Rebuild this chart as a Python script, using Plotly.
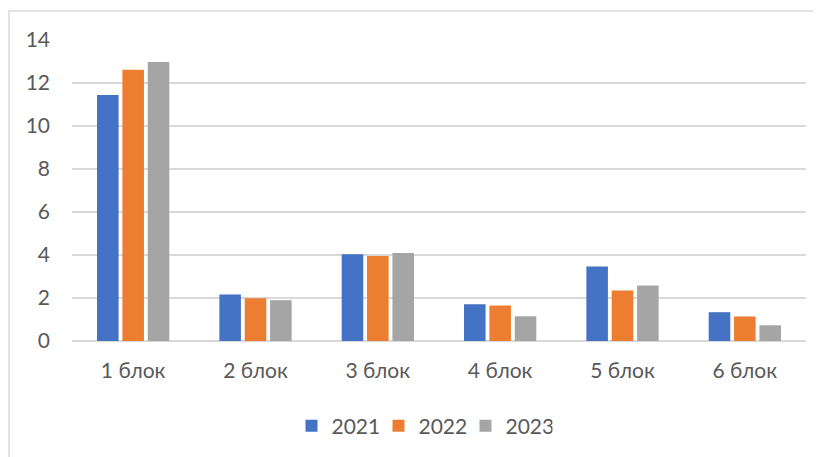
import plotly.graph_objects as go

categories = ["1 блок", "2 блок", "3 блок", "4 блок", "5 блок", "6 блок"]
values_2021 = [11.44, 2.16, 4.03, 1.71, 3.47, 1.34]
values_2022 = [12.62, 1.99, 3.95, 1.65, 2.35, 1.14]
values_2023 = [12.98, 1.90, 4.09, 1.15, 2.58, 0.73]
series_names = ["2021", "2022", "2023"]
colors = ["#4472C4", "#ED7D31", "#A5A5A5"]
y_ticks = [0, 2, 4, 6, 8, 10, 12, 14]

fig = go.Figure()
for name, vals, col in zip(series_names, [values_2021, values_2022, values_2023], colors):
    fig.add_trace(go.Bar(x=categories, y=vals, name=name, marker=dict(color=col, line=dict(width=0))))

OFF = 8  # page body margin
W, H = 821 - OFF, 457 - OFF
L = 72 - OFF
T = 40 - OFF
R = W - (806 - OFF)
B = H - (341 - OFF)
pw = W - L - R
ph = H - T - B

def px_x(x):
    return (x - OFF - L) / pw

def px_y(y):
    return (H - B - (y - OFF)) / ph

fig.update_layout(
    width=W, height=H,
    margin=dict(l=L, r=R, t=T, b=B, autoexpand=False),
    paper_bgcolor="white", plot_bgcolor="white",
    font=dict(family="Lato, 'Open Sans', sans-serif", color="#595959", size=20),
    barmode="group", bargap=0.378, bargroupgap=0.15,
    showlegend=True,
    legend=dict(orientation="h", x=px_x(422), xanchor="center", y=px_y(426), yanchor="middle",
                font=dict(size=21, color="#595959"), bgcolor="rgba(0,0,0,0)", traceorder="normal",
                entrywidth=42, entrywidthmode="pixels"),
    xaxis=dict(showgrid=False, showline=False, ticks="", tickfont=dict(size=21, color="#595959"),
               ticklabelstandoff=15),
    yaxis=dict(range=[0, 14], tickvals=y_ticks, showgrid=True, gridcolor="#d9d9d9", gridwidth=1.5,
               zeroline=True, zerolinecolor="#d9d9d9", zerolinewidth=1.5, showline=False, ticks="",
               tickfont=dict(size=21, color="#595959"), ticklabelstandoff=21),
    shapes=[dict(type="rect", xref="paper", yref="paper",
                 x0=px_x(9), x1=px_x(830), y0=px_y(470), y1=px_y(11),
                 line=dict(color="#d9d9d9", width=1.5), fillcolor="rgba(0,0,0,0)", layer="below")],
)

fig.write_html("out.html")
